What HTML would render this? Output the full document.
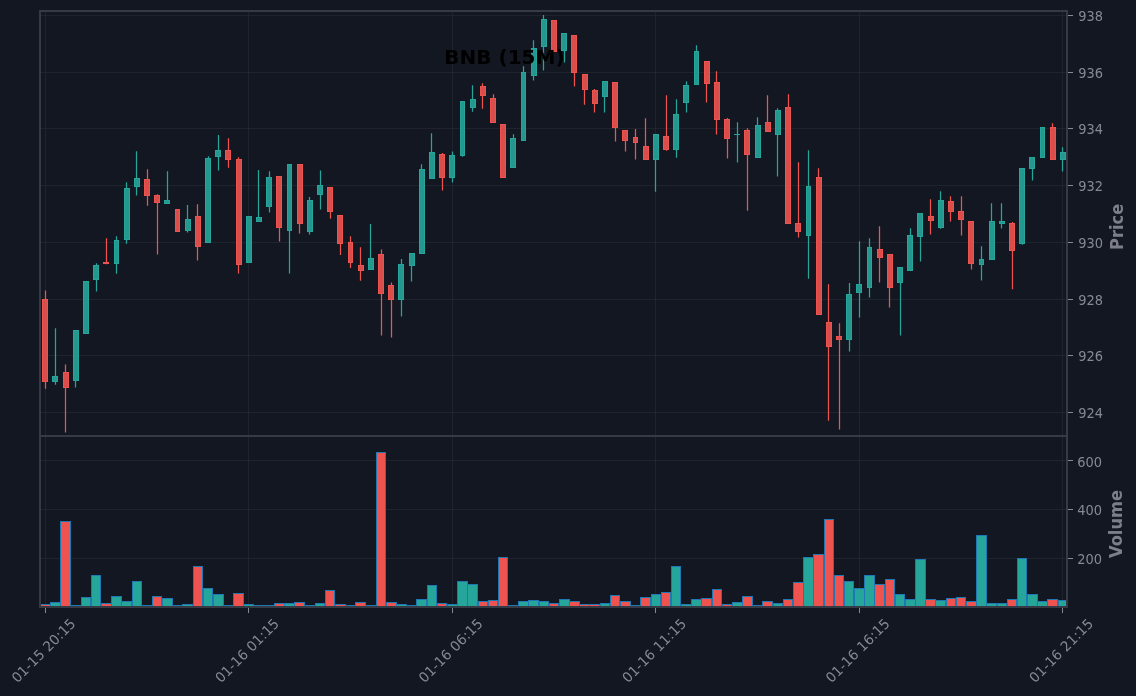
<!DOCTYPE html>
<html lang="en"><head><meta charset="utf-8"><title>BNB (15M)</title>
<style>html,body{margin:0;padding:0;background:#131722;overflow:hidden}svg text{white-space:pre}</style></head>
<body>
<svg width="1136" height="696" viewBox="0 0 1136 696" style="display:block">
<rect x="0" y="0" width="1136" height="696" fill="#131722"/>
<g stroke="#2a2e39" stroke-opacity="0.52" stroke-width="1" fill="none" shape-rendering="crispEdges">
<line x1="40.0" x2="1067.0" y1="412.5" y2="412.5"/>
<line x1="40.0" x2="1067.0" y1="355.5" y2="355.5"/>
<line x1="40.0" x2="1067.0" y1="299.5" y2="299.5"/>
<line x1="40.0" x2="1067.0" y1="242.5" y2="242.5"/>
<line x1="40.0" x2="1067.0" y1="185.5" y2="185.5"/>
<line x1="40.0" x2="1067.0" y1="128.5" y2="128.5"/>
<line x1="40.0" x2="1067.0" y1="72.5" y2="72.5"/>
<line x1="40.0" x2="1067.0" y1="15.5" y2="15.5"/>
<line x1="40.0" x2="1067.0" y1="460.5" y2="460.5"/>
<line x1="40.0" x2="1067.0" y1="509.5" y2="509.5"/>
<line x1="40.0" x2="1067.0" y1="558.5" y2="558.5"/>
<line x1="45.5" x2="45.5" y1="11.0" y2="607.0"/>
<line x1="248.5" x2="248.5" y1="11.0" y2="607.0"/>
<line x1="452.5" x2="452.5" y1="11.0" y2="607.0"/>
<line x1="655.5" x2="655.5" y1="11.0" y2="607.0"/>
<line x1="859.5" x2="859.5" y1="11.0" y2="607.0"/>
<line x1="1062.5" x2="1062.5" y1="11.0" y2="607.0"/>
</g>
<g stroke="#ef5350" stroke-width="1.25" fill="none">
<line x1="45.5" x2="45.5" y1="290.50" y2="388.75"/>
<line x1="65.5" x2="65.5" y1="364.50" y2="432.50"/>
<line x1="106.5" x2="106.5" y1="238.25" y2="264.25"/>
<line x1="147.5" x2="147.5" y1="169.25" y2="205.75"/>
<line x1="157.5" x2="157.5" y1="194.25" y2="254.50"/>
<line x1="197.5" x2="197.5" y1="204.25" y2="260.50"/>
<line x1="228.5" x2="228.5" y1="138.25" y2="167.75"/>
<line x1="238.5" x2="238.5" y1="157.25" y2="273.50"/>
<line x1="279.5" x2="279.5" y1="176.00" y2="241.50"/>
<line x1="299.5" x2="299.5" y1="164.00" y2="233.50"/>
<line x1="330.5" x2="330.5" y1="187.00" y2="218.75"/>
<line x1="340.5" x2="340.5" y1="215.00" y2="255.00"/>
<line x1="350.5" x2="350.5" y1="236.25" y2="268.00"/>
<line x1="360.5" x2="360.5" y1="247.25" y2="280.75"/>
<line x1="381.5" x2="381.5" y1="249.50" y2="335.50"/>
<line x1="391.5" x2="391.5" y1="282.50" y2="337.50"/>
<line x1="442.5" x2="442.5" y1="153.00" y2="190.50"/>
<line x1="482.5" x2="482.5" y1="83.25" y2="108.75"/>
<line x1="493.5" x2="493.5" y1="94.25" y2="122.75"/>
<line x1="574.5" x2="574.5" y1="35.00" y2="86.50"/>
<line x1="584.5" x2="584.5" y1="74.00" y2="104.75"/>
<line x1="594.5" x2="594.5" y1="89.00" y2="112.50"/>
<line x1="615.5" x2="615.5" y1="82.00" y2="141.50"/>
<line x1="625.5" x2="625.5" y1="130.00" y2="151.50"/>
<line x1="635.5" x2="635.5" y1="129.00" y2="159.50"/>
<line x1="645.5" x2="645.5" y1="118.25" y2="159.75"/>
<line x1="666.5" x2="666.5" y1="95.25" y2="150.75"/>
<line x1="706.5" x2="706.5" y1="61.00" y2="102.50"/>
<line x1="716.5" x2="716.5" y1="71.25" y2="134.50"/>
<line x1="727.5" x2="727.5" y1="118.00" y2="158.50"/>
<line x1="747.5" x2="747.5" y1="128.25" y2="210.75"/>
<line x1="767.5" x2="767.5" y1="95.25" y2="131.75"/>
<line x1="788.5" x2="788.5" y1="94.25" y2="223.75"/>
<line x1="798.5" x2="798.5" y1="162.25" y2="237.50"/>
<line x1="818.5" x2="818.5" y1="168.25" y2="314.75"/>
<line x1="828.5" x2="828.5" y1="284.25" y2="420.75"/>
<line x1="839.5" x2="839.5" y1="323.25" y2="429.50"/>
<line x1="879.5" x2="879.5" y1="226.25" y2="282.50"/>
<line x1="889.5" x2="889.5" y1="254.00" y2="307.50"/>
<line x1="930.5" x2="930.5" y1="199.25" y2="234.50"/>
<line x1="950.5" x2="950.5" y1="196.25" y2="221.50"/>
<line x1="961.5" x2="961.5" y1="196.25" y2="235.50"/>
<line x1="971.5" x2="971.5" y1="221.00" y2="269.50"/>
<line x1="1012.5" x2="1012.5" y1="222.00" y2="289.25"/>
<line x1="1052.5" x2="1052.5" y1="123.25" y2="159.75"/>
</g>
<g stroke="#26a69a" stroke-width="1.25" fill="none">
<line x1="55.5" x2="55.5" y1="328.25" y2="384.75"/>
<line x1="75.5" x2="75.5" y1="330.00" y2="387.50"/>
<line x1="96.5" x2="96.5" y1="263.25" y2="291.50"/>
<line x1="116.5" x2="116.5" y1="236.25" y2="273.75"/>
<line x1="126.5" x2="126.5" y1="182.25" y2="243.75"/>
<line x1="136.5" x2="136.5" y1="151.25" y2="195.50"/>
<line x1="167.5" x2="167.5" y1="171.25" y2="204.00"/>
<line x1="187.5" x2="187.5" y1="205.00" y2="232.50"/>
<line x1="208.5" x2="208.5" y1="156.25" y2="242.75"/>
<line x1="218.5" x2="218.5" y1="135.00" y2="170.50"/>
<line x1="258.5" x2="258.5" y1="170.00" y2="221.75"/>
<line x1="269.5" x2="269.5" y1="171.25" y2="212.50"/>
<line x1="289.5" x2="289.5" y1="164.00" y2="273.50"/>
<line x1="309.5" x2="309.5" y1="197.00" y2="234.50"/>
<line x1="320.5" x2="320.5" y1="170.50" y2="209.50"/>
<line x1="370.5" x2="370.5" y1="224.00" y2="269.75"/>
<line x1="401.5" x2="401.5" y1="259.00" y2="316.50"/>
<line x1="411.5" x2="411.5" y1="253.00" y2="281.50"/>
<line x1="421.5" x2="421.5" y1="164.25" y2="253.75"/>
<line x1="431.5" x2="431.5" y1="133.25" y2="178.75"/>
<line x1="452.5" x2="452.5" y1="151.50" y2="182.50"/>
<line x1="462.5" x2="462.5" y1="101.00" y2="156.75"/>
<line x1="472.5" x2="472.5" y1="85.25" y2="111.75"/>
<line x1="513.5" x2="513.5" y1="134.25" y2="167.75"/>
<line x1="523.5" x2="523.5" y1="66.25" y2="140.75"/>
<line x1="533.5" x2="533.5" y1="40.25" y2="80.50"/>
<line x1="543.5" x2="543.5" y1="15.00" y2="70.50"/>
<line x1="564.5" x2="564.5" y1="33.00" y2="62.50"/>
<line x1="604.5" x2="604.5" y1="81.00" y2="112.50"/>
<line x1="655.5" x2="655.5" y1="134.00" y2="191.75"/>
<line x1="676.5" x2="676.5" y1="99.25" y2="157.75"/>
<line x1="686.5" x2="686.5" y1="81.25" y2="112.50"/>
<line x1="696.5" x2="696.5" y1="45.25" y2="84.75"/>
<line x1="737.5" x2="737.5" y1="122.25" y2="162.50"/>
<line x1="757.5" x2="757.5" y1="117.25" y2="157.75"/>
<line x1="777.5" x2="777.5" y1="108.25" y2="176.50"/>
<line x1="808.5" x2="808.5" y1="150.25" y2="278.75"/>
<line x1="849.5" x2="849.5" y1="283.00" y2="351.50"/>
<line x1="859.5" x2="859.5" y1="241.25" y2="317.50"/>
<line x1="869.5" x2="869.5" y1="238.25" y2="297.50"/>
<line x1="900.5" x2="900.5" y1="267.00" y2="335.50"/>
<line x1="910.5" x2="910.5" y1="228.25" y2="270.75"/>
<line x1="920.5" x2="920.5" y1="213.00" y2="261.50"/>
<line x1="940.5" x2="940.5" y1="191.25" y2="228.75"/>
<line x1="981.5" x2="981.5" y1="246.25" y2="280.50"/>
<line x1="991.5" x2="991.5" y1="203.25" y2="259.75"/>
<line x1="1001.5" x2="1001.5" y1="203.25" y2="228.50"/>
<line x1="1022.5" x2="1022.5" y1="168.00" y2="244.75"/>
<line x1="1032.5" x2="1032.5" y1="157.00" y2="180.50"/>
<line x1="1062.5" x2="1062.5" y1="147.25" y2="171.50"/>
</g>
<g stroke="#ef5350" stroke-width="1" fill="#d94d4b">
<rect x="42.5" y="299.5" width="5" height="82"/>
<rect x="63.5" y="372.5" width="5" height="15"/>
<rect x="103.5" y="262.5" width="5" height="1"/>
<rect x="144.5" y="179.5" width="5" height="16"/>
<rect x="154.5" y="195.5" width="5" height="7"/>
<rect x="175.5" y="209.5" width="4" height="22"/>
<rect x="195.5" y="216.5" width="5" height="30"/>
<rect x="225.5" y="150.5" width="5" height="9"/>
<rect x="236.5" y="159.5" width="5" height="105"/>
<rect x="276.5" y="176.5" width="5" height="51"/>
<rect x="297.5" y="164.5" width="5" height="59"/>
<rect x="327.5" y="187.5" width="5" height="24"/>
<rect x="337.5" y="215.5" width="5" height="28"/>
<rect x="348.5" y="242.5" width="4" height="20"/>
<rect x="358.5" y="265.5" width="5" height="5"/>
<rect x="378.5" y="254.5" width="5" height="39"/>
<rect x="388.5" y="285.5" width="5" height="14"/>
<rect x="439.5" y="154.5" width="5" height="23"/>
<rect x="480.5" y="86.5" width="5" height="9"/>
<rect x="490.5" y="98.5" width="5" height="24"/>
<rect x="500.5" y="124.5" width="5" height="53"/>
<rect x="551.5" y="20.5" width="5" height="31"/>
<rect x="571.5" y="35.5" width="5" height="37"/>
<rect x="582.5" y="74.5" width="5" height="15"/>
<rect x="592.5" y="90.5" width="5" height="13"/>
<rect x="612.5" y="82.5" width="5" height="45"/>
<rect x="622.5" y="130.5" width="5" height="10"/>
<rect x="633.5" y="137.5" width="4" height="5"/>
<rect x="643.5" y="146.5" width="5" height="13"/>
<rect x="663.5" y="136.5" width="5" height="13"/>
<rect x="704.5" y="61.5" width="5" height="22"/>
<rect x="714.5" y="82.5" width="5" height="37"/>
<rect x="724.5" y="119.5" width="5" height="19"/>
<rect x="744.5" y="130.5" width="5" height="24"/>
<rect x="765.5" y="122.5" width="5" height="9"/>
<rect x="785.5" y="107.5" width="5" height="116"/>
<rect x="795.5" y="223.5" width="5" height="8"/>
<rect x="816.5" y="177.5" width="5" height="137"/>
<rect x="826.5" y="322.5" width="5" height="24"/>
<rect x="836.5" y="336.5" width="5" height="3"/>
<rect x="877.5" y="249.5" width="5" height="8"/>
<rect x="887.5" y="254.5" width="5" height="33"/>
<rect x="928.5" y="216.5" width="5" height="4"/>
<rect x="948.5" y="201.5" width="5" height="10"/>
<rect x="958.5" y="211.5" width="5" height="8"/>
<rect x="968.5" y="221.5" width="5" height="42"/>
<rect x="1009.5" y="223.5" width="5" height="27"/>
<rect x="1050.5" y="127.5" width="5" height="32"/>
</g>
<g stroke="#26a69a" stroke-width="1" fill="#24988e">
<rect x="52.5" y="376.5" width="5" height="5"/>
<rect x="73.5" y="330.5" width="5" height="50"/>
<rect x="83.5" y="281.5" width="5" height="52"/>
<rect x="93.5" y="265.5" width="5" height="14"/>
<rect x="114.5" y="240.5" width="4" height="23"/>
<rect x="124.5" y="188.5" width="5" height="51"/>
<rect x="134.5" y="178.5" width="5" height="8"/>
<rect x="164.5" y="200.5" width="5" height="3"/>
<rect x="185.5" y="219.5" width="5" height="11"/>
<rect x="205.5" y="158.5" width="5" height="84"/>
<rect x="215.5" y="150.5" width="5" height="6"/>
<rect x="246.5" y="216.5" width="5" height="46"/>
<rect x="256.5" y="217.5" width="5" height="4"/>
<rect x="266.5" y="177.5" width="5" height="29"/>
<rect x="287.5" y="164.5" width="4" height="66"/>
<rect x="307.5" y="200.5" width="5" height="31"/>
<rect x="317.5" y="185.5" width="5" height="9"/>
<rect x="368.5" y="258.5" width="5" height="11"/>
<rect x="398.5" y="264.5" width="5" height="35"/>
<rect x="409.5" y="253.5" width="5" height="12"/>
<rect x="419.5" y="169.5" width="5" height="84"/>
<rect x="429.5" y="152.5" width="5" height="26"/>
<rect x="449.5" y="155.5" width="5" height="22"/>
<rect x="460.5" y="101.5" width="4" height="54"/>
<rect x="470.5" y="99.5" width="5" height="8"/>
<rect x="510.5" y="138.5" width="5" height="29"/>
<rect x="521.5" y="72.5" width="4" height="68"/>
<rect x="531.5" y="48.5" width="5" height="27"/>
<rect x="541.5" y="19.5" width="5" height="27"/>
<rect x="561.5" y="33.5" width="5" height="17"/>
<rect x="602.5" y="81.5" width="5" height="15"/>
<rect x="653.5" y="134.5" width="5" height="25"/>
<rect x="673.5" y="114.5" width="5" height="35"/>
<rect x="683.5" y="85.5" width="5" height="17"/>
<rect x="694.5" y="51.5" width="4" height="33"/>
<line x1="734" x2="740" y1="134.5" y2="134.5"/>
<rect x="755.5" y="125.5" width="5" height="32"/>
<rect x="775.5" y="110.5" width="5" height="24"/>
<rect x="806.5" y="186.5" width="4" height="49"/>
<rect x="846.5" y="294.5" width="5" height="45"/>
<rect x="856.5" y="284.5" width="5" height="8"/>
<rect x="867.5" y="247.5" width="4" height="40"/>
<rect x="897.5" y="267.5" width="5" height="15"/>
<rect x="907.5" y="235.5" width="5" height="35"/>
<rect x="917.5" y="213.5" width="5" height="23"/>
<rect x="938.5" y="200.5" width="5" height="27"/>
<rect x="979.5" y="259.5" width="4" height="5"/>
<rect x="989.5" y="221.5" width="5" height="38"/>
<rect x="999.5" y="221.5" width="5" height="2"/>
<rect x="1019.5" y="168.5" width="5" height="75"/>
<rect x="1029.5" y="157.5" width="5" height="11"/>
<rect x="1040.5" y="127.5" width="4" height="30"/>
<rect x="1060.5" y="152.5" width="5" height="7"/>
</g>
<clipPath id="vc"><rect x="40.0" y="436.0" width="1027.0" height="171.0"/></clipPath>
<g stroke="#1f77b4" stroke-width="1" fill="#ef5350" clip-path="url(#vc)">
<rect x="40.5" y="604.5" width="10.0" height="2.5"/>
<rect x="60.5" y="521.5" width="10.0" height="85.5"/>
<rect x="101.5" y="603.5" width="10.0" height="3.5"/>
<rect x="142.5" y="605.5" width="9.0" height="1.5"/>
<rect x="152.5" y="596.5" width="9.0" height="10.5"/>
<rect x="172.5" y="605.5" width="10.0" height="1.5"/>
<rect x="193.5" y="566.5" width="9.0" height="40.5"/>
<rect x="223.5" y="605.5" width="10.0" height="1.5"/>
<rect x="233.5" y="593.5" width="10.0" height="13.5"/>
<rect x="274.5" y="603.5" width="10.0" height="3.5"/>
<rect x="294.5" y="602.5" width="10.0" height="4.5"/>
<rect x="325.5" y="590.5" width="9.0" height="16.5"/>
<rect x="335.5" y="604.5" width="10.0" height="2.5"/>
<rect x="345.5" y="605.5" width="10.0" height="1.5"/>
<rect x="355.5" y="602.5" width="10.0" height="4.5"/>
<rect x="376.5" y="452.5" width="9.0" height="154.5"/>
<rect x="386.5" y="602.5" width="10.0" height="4.5"/>
<rect x="437.5" y="603.5" width="9.0" height="3.5"/>
<rect x="478.5" y="601.5" width="9.0" height="5.5"/>
<rect x="488.5" y="600.5" width="9.0" height="6.5"/>
<rect x="498.5" y="557.5" width="9.0" height="49.5"/>
<rect x="549.5" y="603.5" width="9.0" height="3.5"/>
<rect x="569.5" y="601.5" width="10.0" height="5.5"/>
<rect x="579.5" y="604.5" width="10.0" height="2.5"/>
<rect x="589.5" y="604.5" width="10.0" height="2.5"/>
<rect x="610.5" y="595.5" width="9.0" height="11.5"/>
<rect x="620.5" y="601.5" width="10.0" height="5.5"/>
<rect x="630.5" y="605.5" width="10.0" height="1.5"/>
<rect x="640.5" y="597.5" width="10.0" height="9.5"/>
<rect x="661.5" y="592.5" width="9.0" height="14.5"/>
<rect x="701.5" y="598.5" width="10.0" height="8.5"/>
<rect x="712.5" y="589.5" width="9.0" height="17.5"/>
<rect x="722.5" y="604.5" width="9.0" height="2.5"/>
<rect x="742.5" y="596.5" width="10.0" height="10.5"/>
<rect x="762.5" y="601.5" width="10.0" height="5.5"/>
<rect x="783.5" y="599.5" width="9.0" height="7.5"/>
<rect x="793.5" y="582.5" width="10.0" height="24.5"/>
<rect x="813.5" y="554.5" width="10.0" height="52.5"/>
<rect x="824.5" y="519.5" width="9.0" height="87.5"/>
<rect x="834.5" y="575.5" width="9.0" height="31.5"/>
<rect x="874.5" y="584.5" width="10.0" height="22.5"/>
<rect x="885.5" y="579.5" width="9.0" height="27.5"/>
<rect x="925.5" y="599.5" width="10.0" height="7.5"/>
<rect x="946.5" y="598.5" width="9.0" height="8.5"/>
<rect x="956.5" y="597.5" width="9.0" height="9.5"/>
<rect x="966.5" y="601.5" width="10.0" height="5.5"/>
<rect x="1007.5" y="599.5" width="9.0" height="7.5"/>
<rect x="1047.5" y="599.5" width="10.0" height="7.5"/>
</g>
<g stroke="#1f77b4" stroke-width="1" fill="#26a69a" clip-path="url(#vc)">
<rect x="50.5" y="602.5" width="10.0" height="4.5"/>
<rect x="70.5" y="605.5" width="10.0" height="1.5"/>
<rect x="81.5" y="597.5" width="9.0" height="9.5"/>
<rect x="91.5" y="575.5" width="9.0" height="31.5"/>
<rect x="111.5" y="596.5" width="10.0" height="10.5"/>
<rect x="121.5" y="601.5" width="10.0" height="5.5"/>
<rect x="132.5" y="581.5" width="9.0" height="25.5"/>
<rect x="162.5" y="598.5" width="10.0" height="8.5"/>
<rect x="182.5" y="604.5" width="10.0" height="2.5"/>
<rect x="203.5" y="588.5" width="9.0" height="18.5"/>
<rect x="213.5" y="594.5" width="10.0" height="12.5"/>
<rect x="243.5" y="604.5" width="10.0" height="2.5"/>
<rect x="254.5" y="605.5" width="9.0" height="1.5"/>
<rect x="264.5" y="605.5" width="9.0" height="1.5"/>
<rect x="284.5" y="603.5" width="10.0" height="3.5"/>
<rect x="305.5" y="605.5" width="9.0" height="1.5"/>
<rect x="315.5" y="603.5" width="9.0" height="3.5"/>
<rect x="366.5" y="605.5" width="9.0" height="1.5"/>
<rect x="396.5" y="604.5" width="10.0" height="2.5"/>
<rect x="406.5" y="605.5" width="10.0" height="1.5"/>
<rect x="416.5" y="599.5" width="10.0" height="7.5"/>
<rect x="427.5" y="585.5" width="9.0" height="21.5"/>
<rect x="447.5" y="604.5" width="10.0" height="2.5"/>
<rect x="457.5" y="581.5" width="10.0" height="25.5"/>
<rect x="467.5" y="584.5" width="10.0" height="22.5"/>
<rect x="508.5" y="605.5" width="10.0" height="1.5"/>
<rect x="518.5" y="601.5" width="10.0" height="5.5"/>
<rect x="528.5" y="600.5" width="10.0" height="6.5"/>
<rect x="539.5" y="601.5" width="9.0" height="5.5"/>
<rect x="559.5" y="599.5" width="10.0" height="7.5"/>
<rect x="600.5" y="603.5" width="9.0" height="3.5"/>
<rect x="651.5" y="594.5" width="9.0" height="12.5"/>
<rect x="671.5" y="566.5" width="9.0" height="40.5"/>
<rect x="681.5" y="604.5" width="10.0" height="2.5"/>
<rect x="691.5" y="599.5" width="10.0" height="7.5"/>
<rect x="732.5" y="602.5" width="10.0" height="4.5"/>
<rect x="752.5" y="605.5" width="10.0" height="1.5"/>
<rect x="773.5" y="603.5" width="9.0" height="3.5"/>
<rect x="803.5" y="557.5" width="10.0" height="49.5"/>
<rect x="844.5" y="581.5" width="9.0" height="25.5"/>
<rect x="854.5" y="588.5" width="10.0" height="18.5"/>
<rect x="864.5" y="575.5" width="10.0" height="31.5"/>
<rect x="895.5" y="594.5" width="9.0" height="12.5"/>
<rect x="905.5" y="599.5" width="10.0" height="7.5"/>
<rect x="915.5" y="559.5" width="10.0" height="47.5"/>
<rect x="935.5" y="600.5" width="10.0" height="6.5"/>
<rect x="976.5" y="535.5" width="10.0" height="71.5"/>
<rect x="986.5" y="603.5" width="10.0" height="3.5"/>
<rect x="997.5" y="603.5" width="9.0" height="3.5"/>
<rect x="1017.5" y="558.5" width="9.0" height="48.5"/>
<rect x="1027.5" y="594.5" width="10.0" height="12.5"/>
<rect x="1037.5" y="601.5" width="10.0" height="5.5"/>
<rect x="1058.5" y="600.5" width="9.0" height="6.5"/>
</g>
<text x="504.45" y="64.3" text-anchor="middle" font-family="'DejaVu Sans','Liberation Sans',sans-serif" font-weight="bold" font-size="20" fill="#000">BNB (15M)</text>
<g stroke="#363a45" stroke-width="2" fill="none">
<rect x="40.0" y="11.0" width="1027.0" height="425.0"/>
<rect x="40.0" y="436.0" width="1027.0" height="171.0"/>
</g>
<g stroke="#868993" stroke-width="1" fill="none" shape-rendering="crispEdges">
<line x1="1068.0" x2="1072.5" y1="412.5" y2="412.5"/>
<line x1="1068.0" x2="1072.5" y1="355.5" y2="355.5"/>
<line x1="1068.0" x2="1072.5" y1="299.5" y2="299.5"/>
<line x1="1068.0" x2="1072.5" y1="242.5" y2="242.5"/>
<line x1="1068.0" x2="1072.5" y1="185.5" y2="185.5"/>
<line x1="1068.0" x2="1072.5" y1="128.5" y2="128.5"/>
<line x1="1068.0" x2="1072.5" y1="72.5" y2="72.5"/>
<line x1="1068.0" x2="1072.5" y1="15.5" y2="15.5"/>
<line x1="1068.0" x2="1072.5" y1="460.5" y2="460.5"/>
<line x1="1068.0" x2="1072.5" y1="509.5" y2="509.5"/>
<line x1="1068.0" x2="1072.5" y1="558.5" y2="558.5"/>
<line x1="45.5" x2="45.5" y1="608.0" y2="612.5"/>
<line x1="248.5" x2="248.5" y1="608.0" y2="612.5"/>
<line x1="452.5" x2="452.5" y1="608.0" y2="612.5"/>
<line x1="655.5" x2="655.5" y1="608.0" y2="612.5"/>
<line x1="859.5" x2="859.5" y1="608.0" y2="612.5"/>
<line x1="1062.5" x2="1062.5" y1="608.0" y2="612.5"/>
</g>
<g font-family="'DejaVu Sans','Liberation Sans',sans-serif" font-size="13.9" fill="#868993">
<text transform="translate(1078.3,418.15) scale(0.935,1)">924</text>
<text transform="translate(1078.3,361.15) scale(0.935,1)">926</text>
<text transform="translate(1078.3,305.15) scale(0.935,1)">928</text>
<text transform="translate(1078.3,248.15) scale(0.935,1)">930</text>
<text transform="translate(1078.3,191.15) scale(0.935,1)">932</text>
<text transform="translate(1078.3,134.15) scale(0.935,1)">934</text>
<text transform="translate(1078.3,78.15) scale(0.935,1)">936</text>
<text transform="translate(1078.3,21.15) scale(0.935,1)">938</text>
<text transform="translate(1077.3,466.90) scale(0.935,1)">600</text>
<text transform="translate(1077.3,515.30) scale(0.935,1)">400</text>
<text transform="translate(1077.3,564.30) scale(0.935,1)">200</text>
<text transform="translate(43.45,650.50) rotate(-45) scale(0.985,1)" text-anchor="middle" y="5.0">01-15 20:15</text>
<text transform="translate(246.97,650.50) rotate(-45) scale(0.985,1)" text-anchor="middle" y="5.0">01-16 01:15</text>
<text transform="translate(450.50,650.50) rotate(-45) scale(0.985,1)" text-anchor="middle" y="5.0">01-16 06:15</text>
<text transform="translate(654.03,650.50) rotate(-45) scale(0.985,1)" text-anchor="middle" y="5.0">01-16 11:15</text>
<text transform="translate(857.56,650.50) rotate(-45) scale(0.985,1)" text-anchor="middle" y="5.0">01-16 16:15</text>
<text transform="translate(1061.09,650.50) rotate(-45) scale(0.985,1)" text-anchor="middle" y="5.0">01-16 21:15</text>
</g>
<g font-family="'DejaVu Sans','Liberation Sans',sans-serif" font-size="16.3" font-weight="bold" fill="#7c7f8a" text-anchor="middle">
<text transform="translate(1123.1,226.9) rotate(-90) scale(1,1.06)">Price</text>
<text transform="translate(1122.4,524.0) rotate(-90) scale(1,1.06)">Volume</text>
</g>
</svg>
</body></html>
